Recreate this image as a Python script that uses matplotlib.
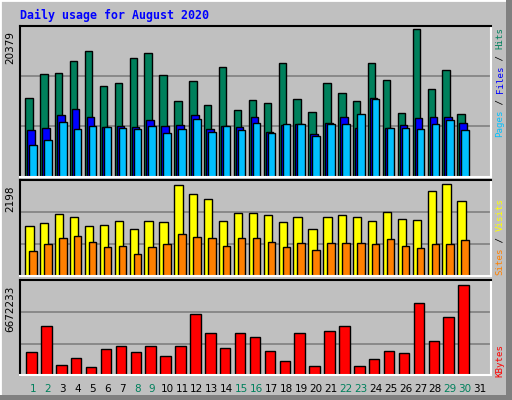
import numpy as np
import matplotlib
matplotlib.use("Agg")
import matplotlib.pyplot as plt
from matplotlib.patches import Rectangle

days = list(range(1, 32))
weekend_days = [1, 2, 8, 9, 15, 16, 22, 23, 29, 30]

hits = [10580, 13820, 13950, 15570, 16920, 12200, 12600, 15980, 16650, 13680,
        10180, 12870, 9640, 14760, 8960, 10350, 9900, 15300, 10450, 8690,
        12600, 11250, 10180, 15300, 13010, 8560, 19890, 11800, 14360, 8420, 0]
files = [6260, 6530, 8290, 9100, 8020, 6670, 6800, 6670, 7610, 6800,
         6940, 8290, 6400, 6800, 6670, 8020, 5990, 6940, 7070, 5720,
         7210, 8020, 6530, 10580, 6530, 6940, 7880, 8020, 8020, 7210, 0]
pages = [4240, 4910, 7340, 6400, 6800, 6670, 6530, 6400, 6800, 5860,
         6400, 7750, 5990, 6800, 6260, 7210, 5860, 7070, 7070, 5450,
         7070, 7070, 8420, 10450, 6530, 6530, 6400, 7070, 7610, 6260, 0]
visits = [1145, 1213, 1420, 1351, 1145, 1168, 1259, 1076, 1259, 1236,
          2084, 1877, 1763, 1259, 1442, 1442, 1397, 1236, 1351, 1076,
          1351, 1397, 1351, 1259, 1465, 1305, 1282, 1946, 2106, 1717, 0]
sites = [572, 733, 870, 916, 778, 664, 687, 504, 664, 733,
         962, 893, 870, 687, 870, 870, 778, 664, 756, 595,
         756, 756, 756, 733, 847, 687, 641, 733, 733, 824, 0]
kbytes = [1668000, 3475000, 695000, 1182000, 556000, 1877000, 2085000, 1668000, 2085000, 1390000,
          2085000, 4309000, 2989000, 1946000, 2989000, 2711000, 1738000, 973000, 2989000, 626000,
          3128000, 3475000, 626000, 1112000, 1738000, 1599000, 5074000, 2433000, 4101000, 6325000, 0]

max_hits = 20379
max_visits = 2198
max_kbytes = 6672233

BG = "#C0C0C0"
W, H = 512, 400
fig = plt.figure(figsize=(W / 100, H / 100), dpi=100, facecolor=BG)

# 3D frame
fig.add_artist(Rectangle((0, 0), 1, 1, transform=fig.transFigure, fill=False,
                         edgecolor="white", lw=2))
fig.add_artist(Rectangle((506 / W, 0), 6 / W, 1, transform=fig.transFigure,
                         color="#808080", lw=0))
fig.add_artist(Rectangle((0, 0), 1, 5 / H, transform=fig.transFigure,
                         color="#808080", lw=0))

x = np.array(days)
left, width = 20 / W, 470.7 / W


def make_ax(top_px, bot_px, ymax):
    ax = fig.add_axes([left, 1 - bot_px / H, width, (bot_px - top_px) / H])
    ax.set_facecolor(BG)
    ax.set_xlim(0.128, 31.72)
    ax.set_ylim(0, ymax)
    for y in (ymax / 3, 2 * ymax / 3):
        ax.axhline(y, color="#808080", lw=1.2, zorder=0)
    ax.set_xticks([])
    ax.set_yticks([])
    ax.spines["top"].set_color("black")
    ax.spines["left"].set_color("black")
    ax.spines["bottom"].set_color("white")
    ax.spines["right"].set_color("white")
    for s in ax.spines.values():
        s.set_linewidth(1.5)
    ax.text(-10 / 470.7, 1 - 5 / (bot_px - top_px), str(ymax), transform=ax.transAxes,
            rotation=90, ha="center", va="top", fontsize=7.5, family="DejaVu Sans")
    return ax


kw = dict(edgecolor="black", linewidth=1)
ax1 = make_ax(25.5, 176.7, max_hits)
ax1.bar(x - 0.27, hits, 0.5, color="#00805C", **kw)
ax1.bar(x - 0.134, files, 0.5, color="#0000FF", **kw)
ax1.bar(x, pages, 0.5, color="#00C0FF", **kw)

ax2 = make_ax(180.3, 276.3, max_visits)
ax2.bar(x - 0.24, visits, 0.56, color="#FFFF00", **kw)
ax2.bar(x, sites, 0.5, color="#FF8000", **kw)

ax3 = make_ax(280.3, 375.3, max_kbytes)
ax3.bar(x - 0.1, kbytes, 0.7, color="#FF0000", **kw)

for d in days:
    xf = left + width * (d - 0.128) / (31.72 - 0.128)
    fig.text(xf, 1 - 389 / H, str(d), ha="center", va="center", fontsize=7.5,
             color="#00805C" if d in weekend_days else "black")

fig.text(20 / W, 1 - 15 / H, "Daily usage for August 2020", ha="left", va="center",
         fontsize=8.4, fontweight="bold", color="#0000FF", family="DejaVu Sans Mono")


def side_label(parts, bottom_px, fs=6.6):
    cw = 0.6 * fs * 100 / 72
    y = bottom_px
    for txt, col in parts:
        fig.text(500 / W, 1 - y / H, txt, rotation=90, ha="center", va="bottom",
                 fontsize=fs, color=col, family="DejaVu Sans Mono")
        y -= cw * len(txt)


side_label([("Pages", "#00C0FF"), (" / ", "black"), ("Files", "#0000FF"),
            (" / ", "black"), ("Hits", "#00805C")], 137)
side_label([("Sites", "#FF8000"), (" / ", "black"), ("Visits", "#FFFF00")], 275)
side_label([("KBytes", "#FF0000")], 377)

fig.savefig("out.png", dpi=100, facecolor=BG)
